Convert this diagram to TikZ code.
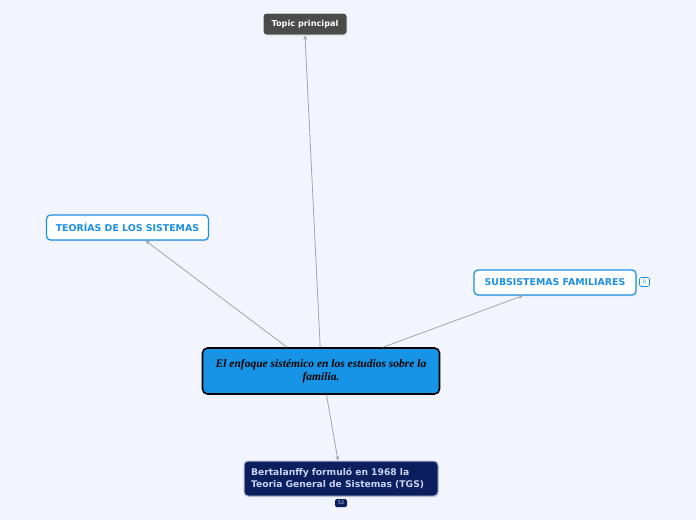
\documentclass[tikz,border=0pt]{standalone}
\usepackage{fontspec}
\setmainfont{Liberation Serif}
\newfontfamily\boxfont{DejaVu Sans Bold}
\newfontfamily\centerfont{Liberation Serif Bold Italic}
\newfontfamily\badgefont{DejaVu Sans}
\usetikzlibrary{arrows.meta,calc,shadows}
\definecolor{bgc}{HTML}{F2F5FE}
\definecolor{topicgray}{HTML}{4B4B4B}
\definecolor{blueline}{HTML}{1C8FE3}
\definecolor{centerblue}{HTML}{1794E5}
\definecolor{navy}{HTML}{0B1F5E}
\definecolor{navytext}{HTML}{C9D2F2}
\definecolor{linkgray}{HTML}{A3A5AD}
\tikzset{
  link/.style={draw=linkgray, line width=0.8pt, -{Stealth[length=4.5pt,width=4pt]}},
  topicbox/.style={draw=white, line width=1pt, fill=topicgray, rounded corners=3pt,
    minimum width=84pt, minimum height=22pt, inner sep=0pt,
    text=white, font=\boxfont\fontsize{8.2}{10}\selectfont,
    drop shadow={shadow xshift=0.6pt, shadow yshift=-1pt, opacity=0.35, fill=gray}},
  subbox/.style={draw=blueline, line width=1.2pt, fill=white, rounded corners=4pt,
    minimum width=162pt, minimum height=25pt, inner sep=0pt,
    text=blueline, font=\boxfont\fontsize{9.4}{11}\selectfont,
    drop shadow={shadow xshift=0.6pt, shadow yshift=-1pt, opacity=0.25, fill=gray}},
  centerbox/.style={draw=black, line width=1.6pt, fill=centerblue, rounded corners=5pt,
    minimum width=237pt, minimum height=46pt, inner sep=0pt, align=center,
    font=\centerfont\fontsize{11.5}{13.5}\selectfont},
  navybox/.style={draw=navytext!70!gray, line width=1pt, fill=navy, rounded corners=4pt,
    minimum width=194pt, minimum height=35pt, inner sep=0pt, align=left,
    text width=180pt, text=navytext, font=\boxfont\fontsize{9.2}{12}\selectfont,
    drop shadow={shadow xshift=0.6pt, shadow yshift=-1pt, opacity=0.3, fill=gray}},
  badge/.style={rounded corners=1.5pt, inner sep=0pt, font=\badgefont\fontsize{5}{5}\selectfont}
}
\begin{document}
\begin{tikzpicture}[x=1pt,y=-1pt]
\fill[bgc] (0,0) rectangle (696,520);
\useasboundingbox (0,0) rectangle (696,520);

\node[topicbox] (topic) at (305,24) {Topic principal};
\node[subbox] (teo) at (127.5,227.5) {TEORÍAS DE LOS SISTEMAS};
\node[subbox] (sub) at (555,282.5) {SUBSISTEMAS FAMILIARES};
\node[badge, draw=blueline, line width=0.6pt, fill=white, text=blueline,
  minimum width=10pt, minimum height=9pt] (b0) at (644.5,282) {0};
\node[centerbox] (c) at (321,371) {El enfoque sistémico en los estudios sobre la\\familia.};
\node[navybox] (bert) at (341,478.5) {Bertalanffy formuló en 1968 la\\Teoria General de Sistemas (TGS)};
\node[badge, fill=navy, text=navytext, minimum width=12pt, minimum height=8pt] (b52) at (341,503) {52};

\draw[link] (c.92) -- (topic.south);
\draw[link] (c.145) -- ($(teo.south)+(18,0)$);
\draw[link] (c.21) -- ($(sub.south)+(-32,0)$);
\draw[link] (c.-77) -- ($(bert.north)+(-3,0)$);
\end{tikzpicture}
\end{document}
